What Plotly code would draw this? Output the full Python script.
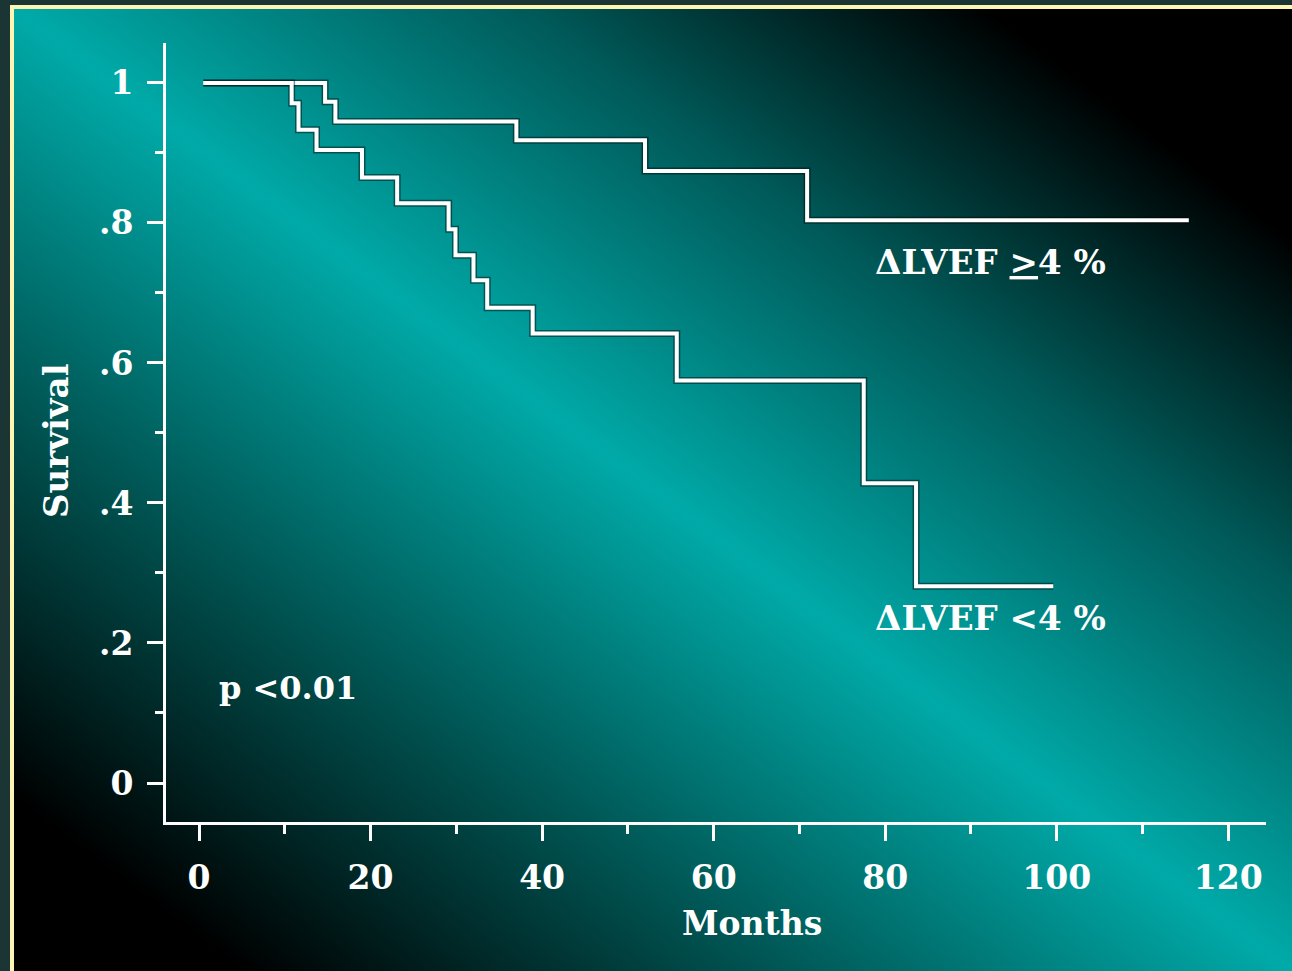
import base64
import plotly.graph_objects as go

# ---- data ----
upper_months = [0.5, 14.7, 15.9, 37.0, 52.0, 70.9, 115.4]
upper_surv = [1.0, 0.973, 0.945, 0.918, 0.874, 0.804, 0.804]

lower_months = [0.5, 10.8, 11.6, 13.7, 19.0, 23.1, 29.1, 29.9, 32.0, 33.6, 38.9, 55.7, 77.5, 83.6, 99.6]
lower_surv = [1.0, 0.971, 0.933, 0.904, 0.865, 0.828, 0.791, 0.754, 0.718, 0.679, 0.642, 0.575, 0.428, 0.281, 0.281]

x_tickvals = [0, 20, 40, 60, 80, 100, 120]
x_ticktext = ["0", "20", "40", "60", "80", "100", "120"]
y_tickvals = [0, 0.2, 0.4, 0.6, 0.8, 1.0]
y_ticktext = ["0", ".2", ".4", ".6", ".8", "1"]

label_upper = "ΔLVEF <u>></u>4 %"
label_lower = "ΔLVEF &lt;4 %"
p_text = "p &lt;0.01"
x_title = "Months"
y_title = "Survival"

W, H = 1292, 971
FONT = "DejaVu Serif"

# background gradient (decorative)
svg = (
    '<svg xmlns="http://www.w3.org/2000/svg" width="1278" height="962" '
    'viewBox="0 0 1278 962" preserveAspectRatio="none">'
    '<defs><linearGradient id="g" x1="0" y1="1" x2="1" y2="0">'
    '<stop offset="0" stop-color="#000000"/>'
    '<stop offset="0.09" stop-color="#000000"/>'
    '<stop offset="0.3" stop-color="#005654"/>'
    '<stop offset="0.5" stop-color="#00aaa8"/>'
    '<stop offset="0.7" stop-color="#005a59"/>'
    '<stop offset="0.88" stop-color="#000000"/>'
    '<stop offset="1" stop-color="#000000"/>'
    '</linearGradient></defs>'
    '<rect width="1278" height="962" fill="url(#g)"/></svg>'
)
src = "data:image/svg+xml;base64," + base64.b64encode(svg.encode()).decode()

fig = go.Figure()
for xs, ys in [(upper_months, upper_surv), (lower_months, lower_surv)]:
    fig.add_trace(go.Scatter(x=xs, y=ys, mode="lines", line=dict(color="rgba(0,0,0,0.45)", width=7, shape="hv"),
                             hoverinfo="skip", showlegend=False))
    fig.add_trace(go.Scatter(x=xs, y=ys, mode="lines", line=dict(color="white", width=4, shape="hv"),
                             showlegend=False))

# pixel -> paper helpers
px = lambda v: v / W
py = lambda v: 1 - v / H

tickfont = dict(family=FONT, size=33, color="white", weight="bold")

fig.update_layout(
    width=W, height=H,
    margin=dict(l=0, r=0, t=0, b=0, pad=0),
    paper_bgcolor="#1b3535",
    plot_bgcolor="rgba(0,0,0,0)",
    showlegend=False,
    xaxis=dict(
        domain=[px(166), px(1266)], range=[-3.85, 124.4],
        showgrid=False, zeroline=False,
        showline=True, linecolor="white", linewidth=3,
        tickmode="array", tickvals=x_tickvals, ticktext=x_ticktext,
        ticks="outside", ticklen=16, tickwidth=3, tickcolor="white",
        minor=dict(dtick=10, tick0=0, ticks="outside", ticklen=9, tickwidth=3, tickcolor="white", showgrid=False),
        tickfont=tickfont, ticklabelstandoff=8, automargin=False,
    ),
    yaxis=dict(
        domain=[py(822), py(43)], range=[-0.0557, 1.057],
        showgrid=False, zeroline=False,
        showline=True, linecolor="white", linewidth=3,
        tickmode="array", tickvals=y_tickvals, ticktext=y_ticktext,
        ticks="outside", ticklen=16, tickwidth=3, tickcolor="white",
        minor=dict(dtick=0.1, tick0=0, ticks="outside", ticklen=8, tickwidth=3, tickcolor="white", showgrid=False),
        tickfont=tickfont, ticklabelstandoff=7, automargin=False,
    ),
    images=[dict(source=src, xref="paper", yref="paper", x=px(14), y=py(9),
                 sizex=1 - px(14), sizey=py(9), xanchor="left", yanchor="top",
                 sizing="stretch", layer="below")],
    shapes=[
        dict(type="rect", xref="paper", yref="paper", x0=px(10), x1=px(14), y0=0, y1=py(5),
             fillcolor="#fdf6b2", line=dict(width=0), layer="below"),
        dict(type="rect", xref="paper", yref="paper", x0=px(14), x1=1, y0=py(9), y1=py(5),
             fillcolor="#fdf6b2", line=dict(width=0), layer="below"),
    ],
)

ann_font = dict(family=FONT, size=34, color="white", weight="bold")
fig.add_annotation(text=label_upper, xref="paper", yref="paper", x=px(990), y=py(262),
                   showarrow=False, font=ann_font, xanchor="center", yanchor="middle")
fig.add_annotation(text=label_lower, xref="paper", yref="paper", x=px(990), y=py(618),
                   showarrow=False, font=ann_font, xanchor="center", yanchor="middle")
fig.add_annotation(text=p_text, xref="paper", yref="paper", x=px(288), y=py(688),
                   showarrow=False, font=dict(family=FONT, size=32, color="white", weight="bold"),
                   xanchor="center", yanchor="middle")
fig.add_annotation(text=x_title, xref="paper", yref="paper", x=px(752), y=py(923),
                   showarrow=False, font=dict(family=FONT, size=33, color="white", weight="bold"),
                   xanchor="center", yanchor="middle")
fig.add_annotation(text=y_title, xref="paper", yref="paper", x=px(56), y=py(441),
                   showarrow=False, font=ann_font, textangle=-90, xanchor="center", yanchor="middle")

fig.write_html("out.html", config={"displayModeBar": False},
               post_script="document.body.style.margin='0';document.body.style.overflow='hidden';")
